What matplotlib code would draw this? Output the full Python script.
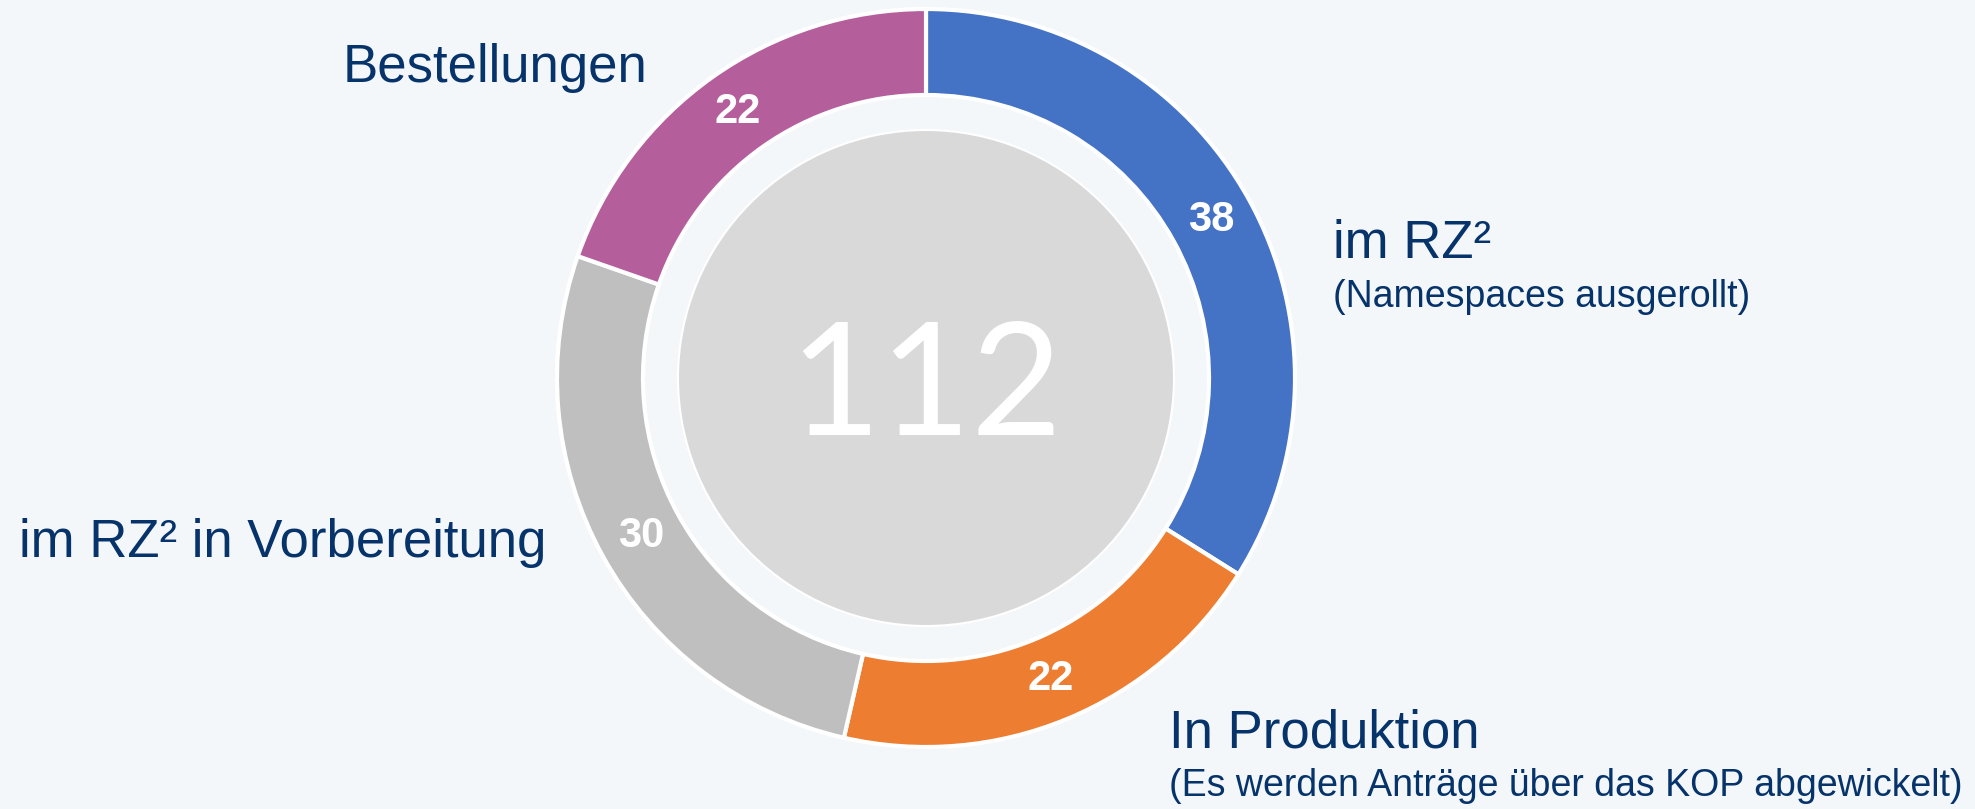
import matplotlib.pyplot as plt
import numpy as np

# Werte des Rings (im Uhrzeigersinn ab 12 Uhr)
kategorien = ['im RZ²', 'In Produktion', 'im RZ² in Vorbereitung', 'Bestellungen']
werte = [38, 22, 30, 22]
farben = ['#4472C4', '#ED7D31', '#BFBFBF', '#B55E9C']
untertitel = ['(Namespaces ausgerollt)', '(Es werden Anträge über das KOP abgewickelt)', '', '']
gesamt = sum(werte)

W, H = 1975, 809
bg = '#F3F7FA'
textfarbe = '#06336A'

fig = plt.figure(figsize=(W / 100, H / 100), dpi=100, facecolor=bg)
ax = fig.add_axes([0, 0, 1, 1])
ax.set_facecolor(bg)

cx, cy = 926, H - 378   # Mittelpunkt (Pixel, y von unten)
r_aussen, breite = 369, 86

wedges, _ = ax.pie(werte, colors=farben, startangle=90, counterclock=False,
                   radius=r_aussen, center=(cx, cy), frame=True,
                   wedgeprops=dict(width=breite, edgecolor='white', linewidth=3))
ax.set_xlim(0, W); ax.set_ylim(0, H); ax.axis('off')

# innerer Kreis mit Gesamtzahl
ax.add_patch(plt.Circle((cx, cy), 248, facecolor='#D9D9D9', edgecolor='white', linewidth=1.5))
ax.text(cx, cy - 12, str(gesamt), ha='center', va='center', color='white',
        fontsize=113, family='Lato')

# Zahlen im Ring
r_mitte = r_aussen - breite / 2
for w, v in zip(wedges, werte):
    ang = np.deg2rad((w.theta1 + w.theta2) / 2)
    ax.text(cx + r_mitte * np.cos(ang), cy + r_mitte * np.sin(ang), str(v),
            ha='center', va='center', color='white', fontsize=30,
            fontweight='bold', family='Liberation Sans')

# Beschriftungen
pos = [(1333, 244), (1169, 733), (19, 543), (343, 68)]
for (x, y), kat, sub in zip(pos, kategorien, untertitel):
    ax.text(x, H - y, kat, ha='left', va='center', color=textfarbe,
            fontsize=38, family='Liberation Sans')
    if sub:
        ax.text(x, H - y - 53, sub, ha='left', va='center', color=textfarbe,
                fontsize=27, family='Liberation Sans')

fig.savefig('out.png', dpi=100, facecolor=bg)
